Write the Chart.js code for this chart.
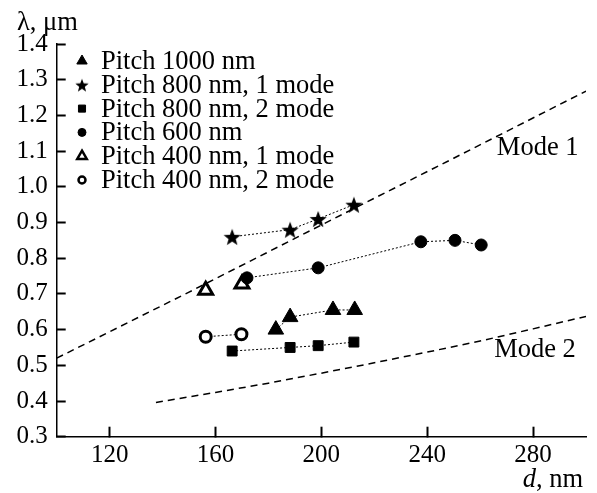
<!DOCTYPE html>
<html>
<head>
<meta charset="utf-8">
<script src="https://cdn.jsdelivr.net/npm/chart.js@4.4.0/dist/chart.umd.min.js"></script>
<style>
  html, body { margin: 0; padding: 0; background: #fff; overflow: hidden; }
  canvas { display: block; }
</style>
</head>
<body>
<canvas id="grafico" width="597" height="493"></canvas>
<script>
// Datos
const xTicks = [120, 160, 200, 240, 280];
const yTicks = [0.4, 0.5, 0.6, 0.7, 0.8, 0.9, 1.0, 1.1, 1.2, 1.3, 1.4];

const pitch1000D = [182.8, 188.2, 204.4, 212.6];
const pitch1000L = [0.600, 0.635, 0.655, 0.655];

const pitch800m1D = [166.3, 188.2, 198.8, 212.3];
const pitch800m1L = [0.860, 0.880, 0.910, 0.950];

const pitch800m2D = [166.3, 188.2, 198.8, 212.3];
const pitch800m2L = [0.540, 0.550, 0.555, 0.565];

const pitch600D = [171.9, 198.8, 237.6, 250.5, 260.4];
const pitch600L = [0.745, 0.773, 0.846, 0.850, 0.837];

const pitch400m1D = [156.3, 170.0];
const pitch400m1L = [0.710, 0.728];

const pitch400m2D = [156.3, 169.8];
const pitch400m2L = [0.580, 0.587];

const mode1D = [100, 150, 200, 250, 300];
const mode1L = [0.520, 0.705, 0.893, 1.080, 1.268];

const mode2D = [137.5, 160, 180, 200, 220, 240, 260, 280, 300];
const mode2L = [0.396, 0.424, 0.450, 0.478, 0.507, 0.537, 0.568, 0.602, 0.637];

const FUENTE = '"Liberation Serif", "DejaVu Serif", serif';
const TAM = 26.5;

// Estrella rellena de 5 puntas (el "star" de Chart.js es un asterisco)
function crearEstrella(r) {
  const c = document.createElement('canvas');
  const s = Math.ceil(r * 2 + 2);
  c.width = s; c.height = s;
  const g = c.getContext('2d');
  g.fillStyle = '#000';
  g.beginPath();
  for (let i = 0; i < 10; i++) {
    const rad = i % 2 === 0 ? r : r * 0.42;
    const a = -Math.PI / 2 + i * Math.PI / 5;
    const px = s / 2 + rad * Math.cos(a);
    const py = s / 2 + 1 + rad * Math.sin(a);
    if (i === 0) g.moveTo(px, py); else g.lineTo(px, py);
  }
  g.closePath();
  g.fill();
  return c;
}
const estrella = crearEstrella(9);
const estrellaChica = crearEstrella(7);

function puntos(xs, ys) {
  return xs.map((x, i) => ({ x: x, y: ys[i] }));
}

function serie(label, xs, ys, estilo, conLinea) {
  return Object.assign({
    label: label,
    data: puntos(xs, ys),
    showLine: conLinea,
    borderColor: '#000',
    borderWidth: 1,
    borderDash: [2, 2],
    pointBorderColor: '#000',
    pointBackgroundColor: '#000',
    pointBorderWidth: 1,
    order: 1
  }, estilo);
}

const datasets = [
  {
    label: 'Mode 1', data: puntos(mode1D, mode1L), showLine: true,
    borderColor: '#000', borderWidth: 1.5, borderDash: [7, 5], pointRadius: 0, order: 5
  },
  {
    label: 'Mode 2', data: puntos(mode2D, mode2L), showLine: true,
    borderColor: '#000', borderWidth: 1.5, borderDash: [7, 5], pointRadius: 0, order: 5
  },
  serie('Pitch 1000 nm', pitch1000D, pitch1000L, { pointStyle: 'triangle', pointRadius: 9 }, true),
  serie('Pitch 800 nm, 1 mode', pitch800m1D, pitch800m1L, { pointStyle: estrella, pointRadius: 9 }, true),
  serie('Pitch 800 nm, 2 mode', pitch800m2D, pitch800m2L, { pointStyle: 'rect', pointRadius: 7 }, true),
  serie('Pitch 600 nm', pitch600D, pitch600L, { pointStyle: 'circle', pointRadius: 6 }, true),
  serie('Pitch 400 nm, 1 mode', pitch400m1D, pitch400m1L,
    { pointStyle: 'triangle', pointRadius: 8, pointBackgroundColor: '#fff', pointBorderWidth: 3 }, false),
  serie('Pitch 400 nm, 2 mode', pitch400m2D, pitch400m2L,
    { pointStyle: 'circle', pointRadius: 5.5, pointBackgroundColor: '#fff', pointBorderWidth: 3 }, true)
];

// Leyenda y rótulos
const decoracion = {
  id: 'decoracion',
  afterDatasetsDraw(chart) {
    const ctx = chart.ctx;
    const xs = chart.scales.x;
    const ys = chart.scales.y;
    ctx.save();
    ctx.setLineDash([]);
    const marcas = [
      { pointStyle: 'triangle', radius: 6, fill: '#000', bw: 1 },
      { pointStyle: estrellaChica, radius: 6, fill: '#000', bw: 1 },
      { pointStyle: 'rect', radius: 5, fill: '#000', bw: 1 },
      { pointStyle: 'circle', radius: 4, fill: '#000', bw: 1 },
      { pointStyle: 'triangle', radius: 5.5, fill: '#fff', bw: 2.5 },
      { pointStyle: 'circle', radius: 3.5, fill: '#fff', bw: 2.5 }
    ];
    ctx.font = TAM + 'px ' + FUENTE;
    ctx.textBaseline = 'middle';
    ctx.textAlign = 'left';
    marcas.forEach((m, i) => {
      const y0 = 61 + i * 23.8;
      ctx.fillStyle = m.fill;
      ctx.strokeStyle = '#000';
      ctx.lineWidth = m.bw;
      Chart.helpers.drawPoint(ctx, { pointStyle: m.pointStyle, radius: m.radius, borderWidth: m.bw, rotation: 0 }, 82, y0);
      ctx.fillStyle = '#000';
      ctx.fillText(datasets[i + 2].label, 101, y0 + 1);
    });

    ctx.fillText('Mode 1', xs.getPixelForValue(266.3), ys.getPixelForValue(1.109));
    ctx.fillText('Mode 2', xs.getPixelForValue(265.3), ys.getPixelForValue(0.543));

    ctx.textBaseline = 'alphabetic';
    ctx.fillText('λ, μm', 17, 30);
    ctx.font = 'italic ' + TAM + 'px ' + FUENTE;
    const wd = ctx.measureText('d').width;
    ctx.font = TAM + 'px ' + FUENTE;
    const wr = ctx.measureText(', nm').width;
    const fin = 583;
    ctx.fillText(', nm', fin - wr, 487);
    ctx.font = 'italic ' + TAM + 'px ' + FUENTE;
    ctx.fillText('d', fin - wr - wd, 487);
    ctx.restore();
  }
};

new Chart(document.getElementById('grafico'), {
  type: 'scatter',
  data: { datasets: datasets },
  options: {
    responsive: false,
    animation: false,
    layout: { padding: { left: 0, top: 44, right: 5, bottom: 0 } },
    plugins: {
      legend: { display: false },
      tooltip: { enabled: false }
    },
    scales: {
      x: {
        type: 'linear', min: 100, max: 300,
        afterBuildTicks: s => { s.ticks = xTicks.map(v => ({ value: v })); },
        afterFit: s => { s.height = 56.3; },
        // marcas hacia dentro: longitud negativa
        grid: {
          display: true, drawOnChartArea: false, drawTicks: true,
          tickLength: -10, tickWidth: 2, tickColor: '#000'
        },
        border: { display: true, color: '#000', width: 1.5 },
        ticks: { color: '#000', padding: 14, font: { family: FUENTE, size: 25 }, maxRotation: 0 }
      },
      y: {
        type: 'linear', min: 0.3, max: 1.4,
        afterBuildTicks: s => { s.ticks = [0.3].concat(yTicks).map(v => ({ value: v })); },
        afterFit: s => { s.width = 56.7; },
        grid: {
          display: true, drawOnChartArea: false, drawTicks: true,
          tickLength: -9, tickWidth: 2, tickColor: '#000'
        },
        border: { display: true, color: '#000', width: 1.5 },
        ticks: {
          color: '#000', padding: 18, font: { family: FUENTE, size: 25 },
          callback: v => v.toFixed(1)
        }
      }
    }
  },
  plugins: [decoracion]
});
</script>
</body>
</html>
